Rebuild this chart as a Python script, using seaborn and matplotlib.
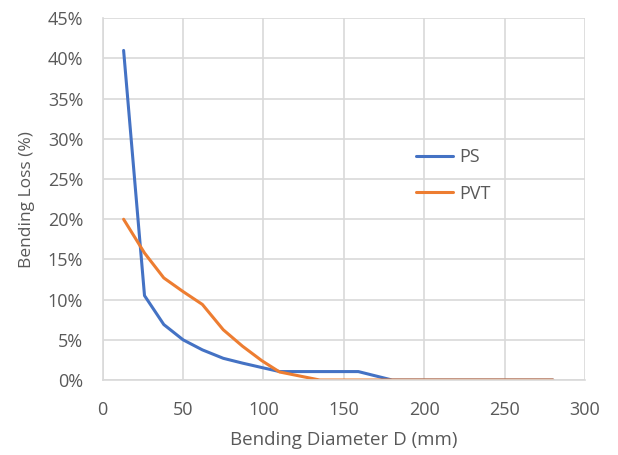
import matplotlib
matplotlib.use("Agg")
import matplotlib.pyplot as plt
from matplotlib.ticker import PercentFormatter, MultipleLocator
import seaborn as sns
import pandas as pd

diameter = [13, 26, 38, 50, 62, 75, 87, 99, 110, 135, 159, 180, 280]
ps_loss = [0.41, 0.105, 0.069, 0.050, 0.0375, 0.027, 0.021, 0.0155, 0.0105, 0.0105, 0.0105, 0.0, 0.0]
pvt_loss = [0.20, 0.158, 0.127, 0.110, 0.094, 0.0625, 0.042, 0.024, 0.010, 0.0, 0.0, 0.0, 0.0]
series_names = ["PS", "PVT"]
colors = ["#4472C4", "#ED7D31"]

df = pd.DataFrame({
    "D": diameter * 2,
    "loss": ps_loss + pvt_loss,
    "series": [series_names[0]] * len(diameter) + [series_names[1]] * len(diameter),
})

sns.set_theme(style="white")
plt.rcParams["font.family"] = ["Open Sans", "DejaVu Sans"]
txt = "#595959"
grid = "#D9D9D9"

fig = plt.figure(figsize=(6.18, 4.55), dpi=100)
ax = fig.add_axes([0.1662, 0.1648, 0.9466 - 0.1662, 0.9598 - 0.1648])

sns.lineplot(data=df, x="D", y="loss", hue="series", palette=colors,
             linewidth=2.2, ax=ax, sort=False, estimator=None)

ax.set_xlim(0, 300)
ax.set_ylim(0, 0.45)
ax.xaxis.set_major_locator(MultipleLocator(50))
ax.yaxis.set_major_locator(MultipleLocator(0.05))
ax.yaxis.set_major_formatter(PercentFormatter(1.0, decimals=0))
ax.grid(True, color=grid, linewidth=1.2)
ax.set_axisbelow(True)
for s in ["top", "right"]:
    ax.spines[s].set_visible(False)
for s in ["left", "bottom"]:
    ax.spines[s].set_color(grid)
    ax.spines[s].set_linewidth(1.2)
ax.tick_params(axis="both", length=0, labelsize=13, colors=txt)
ax.tick_params(axis="y", pad=14)
ax.tick_params(axis="x", pad=15)
ax.set_xlabel("Bending Diameter D (mm)", fontsize=13.5, color=txt, labelpad=9)
ax.set_ylabel("Bending Loss (%)", fontsize=12.5, color=txt, labelpad=9)

leg = ax.legend(title=None, frameon=False, fontsize=13, loc="upper left",
                bbox_to_anchor=(0.615, 0.685), handlelength=2.1, labelspacing=1.0,
                handletextpad=0.3)
for t in leg.get_texts():
    t.set_color(txt)

fig.savefig("out.png", dpi=100)
